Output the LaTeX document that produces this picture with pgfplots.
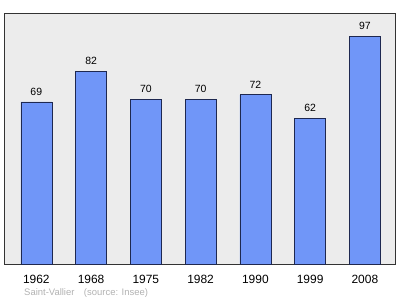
\documentclass[border=0pt]{standalone}
\usepackage{pgfplots}
\pgfplotsset{compat=1.18}
\usepackage{fontspec}
\setmainfont{Liberation Sans}
\definecolor{barfill}{RGB}{112,150,248}
\definecolor{barline}{RGB}{30,40,80}
\definecolor{panel}{RGB}{236,236,236}
\begin{document}
\begin{tikzpicture}
\begin{axis}[
  scale only axis,
  width=391bp, height=251bp,
  xmin=-0.59, xmax=6.55,
  ymin=0, ymax=106.8,
  /pgf/number format/assume math mode=true,
  axis background/.style={fill=panel},
  axis line style={draw=black!80, line width=0.8pt},
  xtick=data,
  xticklabels={1962,1968,1975,1982,1990,1999,2008},
  ytick=\empty,
  major tick length=0pt,
  xticklabel style={font=\fontsize{12}{14}\selectfont, yshift=-8bp},
  ybar, bar width=31bp,
  nodes near coords,
  every node near coord/.append style={font=\fontsize{10.5}{12}\selectfont, yshift=3bp},
  clip=false,
]
\addplot[fill=barfill, draw=barline, line width=0.6pt] coordinates {
  (0,69) (1,82) (2,70) (3,70) (4,72) (5,62) (6,97)
};
\node[anchor=west, inner sep=0pt, text=black!30, font=\fontsize{9.5}{11}\selectfont]
  at ([xshift=20bp,yshift=-29bp]rel axis cs:0,0) {Saint-Vallier\quad(source: Insee)};
\path (rel axis cs:0,0) ++(-4bp,-35bp) coordinate (bbsw);
\path (rel axis cs:1,1) ++(5bp,13bp) coordinate (bbne);
\end{axis}
\path (bbsw) rectangle (bbne);
\end{tikzpicture}
\end{document}
